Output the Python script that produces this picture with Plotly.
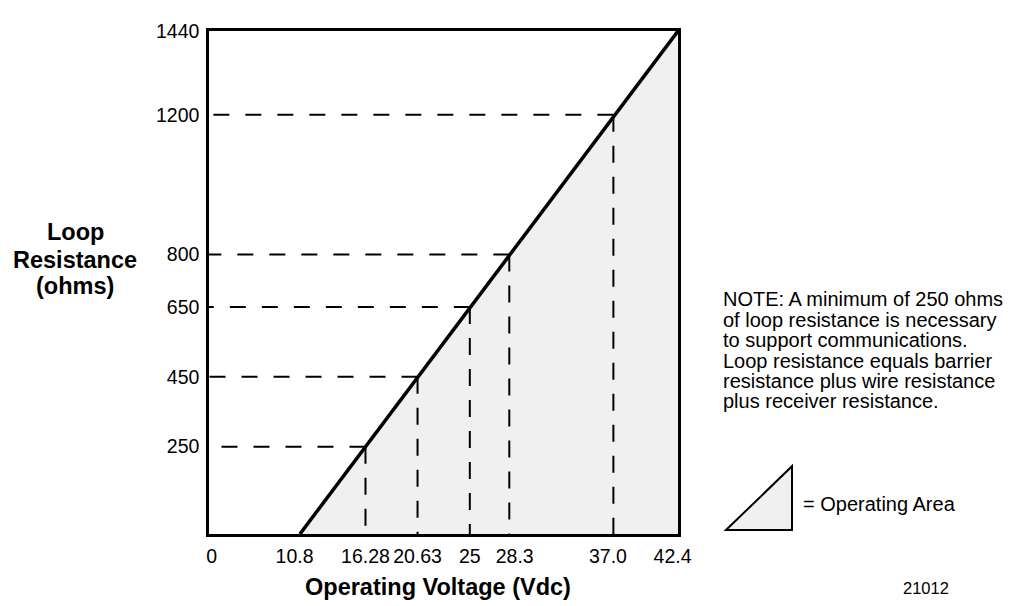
import plotly.graph_objects as go

# ---- data ----
line_voltage = [10.8, 42.4]          # Vdc
line_resistance = [0, 1440]          # ohms
mark_voltage = [16.28, 20.63, 25, 28.3, 37.0]
mark_resistance = [250, 450, 650, 800, 1200]
x_axis_start = 3.2                   # axis break: labelled "0"
x_tick_vals = [x_axis_start, 10.8, 16.28, 20.63, 25, 28.3, 37.0, 42.4]
x_tick_text = ["0", "10.8", "16.28", "20.63", "25", "28.3", "37.0", "42.4"]
y_tick_vals = [250, 450, 650, 800, 1200, 1440]
y_tick_text = ["250", "450", "650", "800", "1200", "1440"]
note_lines = [
    "NOTE: A minimum of 250 ohms",
    "of loop resistance is necessary",
    "to support communications.",
    "Loop resistance equals barrier",
    "resistance plus wire resistance",
    "plus receiver resistance.",
]
y_title_lines = ["Loop", "Resistance", "(ohms)"]
x_title = "Operating Voltage (Vdc)"
legend_text = "= Operating Area"
fig_id = "21012"

FONT = "Liberation Sans, Arial, sans-serif"
PAGE_OFF = 8                      # default body margin of the html page
W, H = 1016 - PAGE_OFF, 606 - PAGE_OFF
# plot frame in page pixel coordinates
L, R, T, B = 209, 678, 22, 534

# small label nudges (non-breaking-space padding) as in the reference
NB = "\u00a0"
pad_left = {"0": 1, "28.3": 2}
pad_right = {"10.8": 2, "37.0": 2, "42.4": 2}
x_tick_show = [NB * pad_left.get(t, 0) + t + NB * pad_right.get(t, 0) for t in x_tick_text]


def px(x):
    return (x - L) / (R - L)


def py(y):
    return (B - y) / (B - T)


fig = go.Figure()

# operating area fill
fig.add_trace(go.Scatter(
    x=[line_voltage[0], line_voltage[1], line_voltage[1], line_voltage[0]],
    y=[line_resistance[0], line_resistance[1], line_resistance[0], line_resistance[0]],
    mode="lines", fill="toself", fillcolor="#f0f0f0",
    line=dict(width=0, color="rgba(0,0,0,0)"), hoverinfo="skip", showlegend=False,
))

# dashed guides
for v, r in zip(mark_voltage, mark_resistance):
    fig.add_trace(go.Scatter(
        x=[v, x_axis_start], y=[r, r], mode="lines",
        line=dict(color="black", width=2, dash="16px,16px"),
        hoverinfo="skip", showlegend=False,
    ))
    fig.add_trace(go.Scatter(
        x=[v, v], y=[r, 0], mode="lines",
        line=dict(color="black", width=2, dash="17px,14px"),
        hoverinfo="skip", showlegend=False,
    ))

# main line
fig.add_trace(go.Scatter(
    x=line_voltage, y=line_resistance, mode="lines",
    line=dict(color="black", width=3.5), hoverinfo="skip", showlegend=False,
))

annotations = []
for i, txt in enumerate(note_lines):
    annotations.append(dict(
        text=txt, xref="paper", yref="paper", x=px(721), y=py(295 + i * 20.8),
        xanchor="left", yanchor="middle", showarrow=False,
        font=dict(family=FONT, size=20, color="black"),
    ))
for txt, yy in zip(y_title_lines, [227, 255, 282]):
    annotations.append(dict(
        text=txt, xref="paper", yref="paper", x=px(75), y=py(yy),
        xanchor="center", yanchor="middle", showarrow=False,
        font=dict(family=FONT, size=23.5, color="black", weight="bold"),
    ))
annotations.append(dict(
    text=x_title, xref="paper", yref="paper", x=px(438), y=py(588),
    xanchor="center", yanchor="middle", showarrow=False,
    font=dict(family=FONT, size=23.5, color="black", weight="bold"),
))
annotations.append(dict(
    text=legend_text, xref="paper", yref="paper", x=px(801), y=py(503),
    xanchor="left", yanchor="middle", showarrow=False,
    font=dict(family=FONT, size=20, color="black"),
))
annotations.append(dict(
    text=fig_id, xref="paper", yref="paper", x=px(925.5), y=py(589),
    xanchor="center", yanchor="middle", showarrow=False,
    font=dict(family=FONT, size=16.5, color="black"),
))

# legend key triangle
tri = "M {0},{1} L {2},{3} L {2},{1} Z".format(px(726), py(530), px(792), py(465))
shapes = [dict(type="path", xref="paper", yref="paper", path=tri,
               fillcolor="#f0f0f0", line=dict(color="black", width=2))]

fig.update_layout(
    width=W, height=H,
    margin=dict(l=L - PAGE_OFF, r=(W + PAGE_OFF) - R, t=T - PAGE_OFF, b=(H + PAGE_OFF) - B),
    paper_bgcolor="white", plot_bgcolor="white",
    font=dict(family=FONT, color="black"),
    annotations=annotations, shapes=shapes,
    xaxis=dict(
        range=[x_axis_start, 42.4], tickvals=x_tick_vals, ticktext=x_tick_show,
        showgrid=False, zeroline=False, showline=True, mirror=True,
        linecolor="black", linewidth=2.5, ticks="", ticklabelstandoff=3,
        tickangle=0, tickfont=dict(family=FONT, size=19.5, color="black"),
    ),
    yaxis=dict(
        range=[0, 1440], tickvals=y_tick_vals, ticktext=y_tick_text,
        showgrid=False, zeroline=False, showline=True, mirror=True,
        linecolor="black", linewidth=2.5, ticks="", ticklabelstandoff=3,
        tickfont=dict(family=FONT, size=19.5, color="black"),
    ),
)

fig.write_html("out.html")
